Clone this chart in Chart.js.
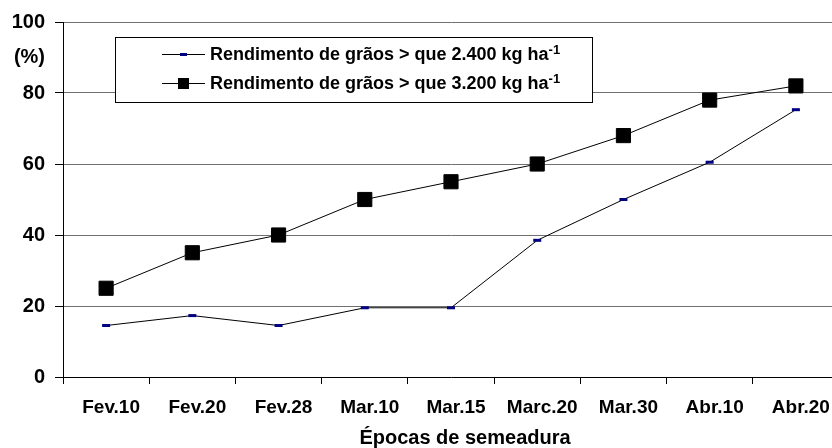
<!DOCTYPE html>
<html>
<head>
<meta charset="utf-8">
<script src="https://cdn.jsdelivr.net/npm/chart.js@4.4.1/dist/chart.umd.min.js"></script>
<style>
  body { margin: 0; overflow: hidden; background: #fff; }
  #wrap { position: absolute; left: 0; top: 0; width: 860px; height: 448px; }
</style>
</head>
<body>
<div id="wrap"><canvas id="chart" width="860" height="448"></canvas></div>
<script>
// sowing dates
const categories = ['Fev.10', 'Fev.20', 'Fev.28', 'Mar.10', 'Mar.15', 'Marc.20', 'Mar.30', 'Abr.10', 'Abr.20'];
// % above 2.400 kg/ha
const above2400 = [14.5, 17.3, 14.5, 19.5, 19.5, 38.5, 50, 60.5, 75.3];
// % above 3.200 kg/ha
const above3200 = [25, 35, 40, 50, 55, 60, 68, 78, 82];
const legendLabels = ['Rendimento de grãos > que 2.400 kg ha', 'Rendimento de grãos > que 3.200 kg ha'];
const yTicks = [0, 20, 40, 60, 80, 100];
const xTitle = 'Épocas de semeadura';

const FONT = 'Arial, "Liberation Sans", sans-serif';

// legend box drawn by hand (needs the superscript and a framed box)
const boxLegend = {
    id: 'boxLegend',
    afterDraw(chart) {
        const ctx = chart.ctx;
        ctx.save();
        ctx.fillStyle = '#fff';
        ctx.fillRect(115, 37, 477, 65);
        ctx.strokeStyle = '#000';
        ctx.lineWidth = 1;
        ctx.strokeRect(115.5, 37.5, 477, 65);

        const rows = [54, 83];
        rows.forEach((y, i) => {
            ctx.beginPath();
            ctx.moveTo(162, y + 0.5);
            ctx.lineTo(205, y + 0.5);
            ctx.strokeStyle = '#000';
            ctx.lineWidth = 1;
            ctx.stroke();
            if (i === 0) {
                ctx.fillStyle = '#000080';
                ctx.fillRect(180, y - 1, 7, 3);
            } else {
                ctx.fillStyle = '#000';
                ctx.fillRect(178, y - 5, 11, 11);
            }
            ctx.fillStyle = '#000';
            ctx.font = 'bold 18px ' + FONT;
            ctx.textBaseline = 'middle';
            ctx.textAlign = 'left';
            ctx.fillText(legendLabels[i], 210, y + 1);
            const w = ctx.measureText(legendLabels[i]).width;
            ctx.font = 'bold 13px ' + FONT;
            ctx.fillText('-1', 210 + w, y - 4);
        });

        // axis title, centred on the whole figure like the original
        ctx.font = 'bold 20px ' + FONT;
        ctx.textAlign = 'center';
        ctx.textBaseline = 'middle';
        ctx.fillText(xTitle, 465, 438);
        ctx.restore();
    }
};

const ctx = document.getElementById('chart').getContext('2d');
const chart = new Chart(ctx, {
    type: 'line',
    data: {
        labels: categories,
        datasets: [{
            label: legendLabels[0],
            data: above2400,
            borderColor: '#000',
            borderWidth: 1,
            pointStyle: 'line',
            pointRadius: 4,
            pointBorderWidth: 3,
            pointBorderColor: '#000080',
            pointBackgroundColor: '#000080',
            tension: 0
        }, {
            label: legendLabels[1],
            data: above3200,
            borderColor: '#000',
            borderWidth: 1,
            pointStyle: 'rect',
            pointRadius: 10,
            pointBorderWidth: 1,
            pointBorderColor: '#000',
            pointBackgroundColor: '#000',
            tension: 0
        }]
    },
    options: {
        responsive: false,
        animation: false,
        layout: { padding: { top: 19, right: 21, left: 0, bottom: 0 } },
        plugins: {
            legend: { display: false },
            tooltip: { enabled: false }
        },
        scales: {
            x: {
                offset: true,
                grid: {
                    offset: true,
                    drawOnChartArea: false,
                    tickLength: 7,
                    tickColor: '#000'
                },
                border: { color: '#000', width: 1 },
                ticks: {
                    color: '#000',
                    font: { family: FONT, size: 19, weight: 'bold' },
                    padding: 12,
                    labelOffset: 5,
                    maxRotation: 0,
                    autoSkip: false
                },
                afterFit: s => { s.height = 71; }
            },
            y: {
                min: 0,
                max: 100,
                grid: {
                    color: c => (c.tick && yTicks.includes(c.tick.value) && c.tick.value !== 0) ? '#707070' : 'rgba(0,0,0,0)',
                    tickColor: c => (c.tick && yTicks.includes(c.tick.value)) ? '#000' : 'rgba(0,0,0,0)',
                    tickLength: 8,
                    lineWidth: 1
                },
                border: { color: '#000', width: 1 },
                ticks: {
                    stepSize: 10,
                    color: '#000',
                    padding: 10,
                    font: { family: FONT, size: 20, weight: 'bold' },
                    callback: v => yTicks.includes(v) ? v : (v === 90 ? '(%)' : '')
                },
                afterFit: s => { s.width = 63; }
            }
        }
    },
    plugins: [boxLegend]
});
</script>
</body>
</html>
